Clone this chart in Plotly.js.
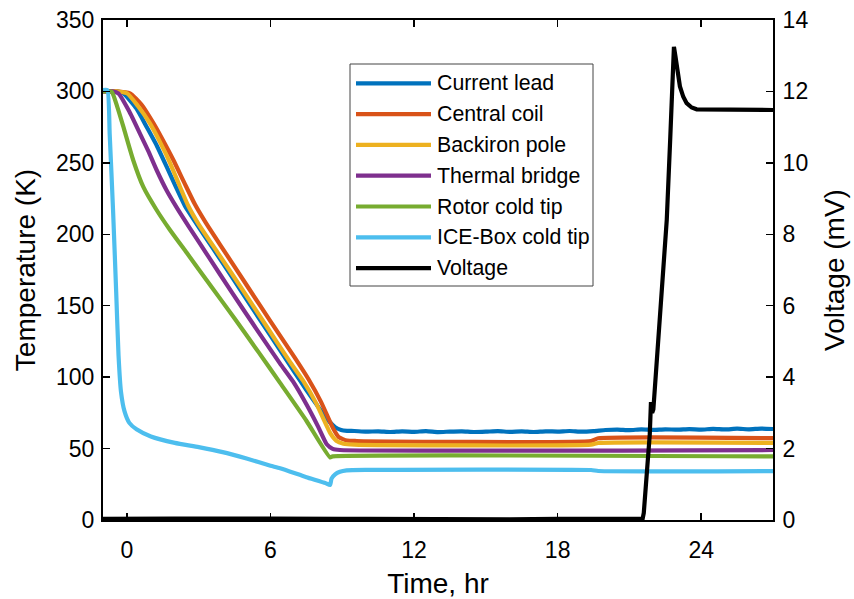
<!DOCTYPE html>
<html>
<head>
<meta charset="utf-8">
<script src="https://cdn.plot.ly/plotly-3.0.1.min.js"></script>
<style>html,body{margin:0;padding:0;background:#fff;}#chart{width:854px;height:599px;}</style>
</head>
<body>
<div id="chart"></div>
<script>
// ---- series names & colours ----
const seriesNames = ['Current lead','Central coil','Backiron pole','Thermal bridge','Rotor cold tip','ICE-Box cold tip','Voltage'];
const seriesColors = ['#0072BD','#D95319','#EDB120','#7E2F8E','#77AC30','#4DBEEE','#000000'];

// ---- Current lead (K) ----
const tLead = [-1,-0.4,-0.15,0.4,0.82,1.25,1.66,2.05,2.42,3.2,4,5,6,7,7.5,8.0,8.4,8.7,8.95,9.2,9.5,10,10.5,11,11.5,12,12.5,13,13.5,14,14.5,15,15.5,16,16.5,17,17.5,18,18.5,19,19.5,20,20.5,21,21.5,22,22.5,23,23.5,24,24.5,25,25.5,26,26.5,27];
const tempLead = [300,300,298.7,288,275.3,262,247.3,233,220,200,180,154.5,129,103.5,91,79,70,65,63,62.4,62.3,61.8,62.1,61.6,62.0,61.7,62.2,61.5,61.9,62.1,61.6,61.8,62.2,61.7,62.0,61.6,62.1,61.9,62.3,61.8,62.2,63.0,63.3,62.9,63.4,63.1,63.5,63.2,63.6,63.3,63.8,63.4,63.9,63.5,64.0,63.7];

// ---- Central coil (K) ----
const tCoil = [-1,-0.5,0.13,0.6,1.1,1.5,1.94,2.4,2.84,3.3,4,5,6,7,7.59,8.1,8.62,8.85,9.2,9.6,19.4,19.7,27];
const tempCoil = [300,300,298.7,291,278,266,252,236,221,208,190,164.5,139,114,98.5,83,64,58,55.6,55.3,55.3,57.2,57.3];

// ---- Backiron pole (K) ----
const tPole = [-1,-0.45,0.0,0.45,0.95,1.4,1.8,2.2,2.56,3.0,3.8,4.8,5.8,6.8,7.36,7.9,8.49,8.75,9.05,9.5,19.4,19.7,27];
const tempPole = [300,300,298.7,290,278,264,250,234,220,207,187,162,136.5,111,97.5,82,61,55.5,53.4,52.7,52.7,53.9,54.0];

// ---- Thermal bridge (K) ----
const tBridge = [-1,-0.6,-0.36,0.1,0.54,0.9,1.24,1.65,2.07,2.6,3.4,4.4,5.4,6.4,6.94,7.5,8.0,8.35,8.6,8.9,27];
const tempBridge = [300,300,298.7,286,270.7,258,245,231,219,205,184.5,159,134,109.5,97,81,65,53,49.8,49,49];

// ---- Rotor cold tip (K) ----
const tRotor = [-1,-0.64,-0.4,-0.15,0.26,0.68,1.24,1.8,2.5,3.5,4.5,5.5,6.4,7.5,8.49,8.6,27];
const tempRotor = [300,299.8,289,275.3,252,233.3,217,203,187,164,141,117.5,96,69.5,43.8,44.5,44.5];

// ---- ICE-Box cold tip (K) ----
const tIce = [-1,-0.82,-0.72,-0.58,-0.45,-0.35,-0.25,-0.1,0.1,0.4,1,2,3,4,5,6,6.4,7.5,8.3,8.49,8.55,8.7,8.9,9.18,10,19.4,19.7,27];
const tempIce = [301,301,270,217,160,115,90,76,68,63.5,58.5,54,51,47.5,43,38,36.2,30,25.8,24.5,29,32,33.8,34.8,35.1,35.0,34.3,34.2];

// ---- Voltage (mV) ----
const tVolt = [-1,0,1,2,3,4,5,6,7,8,9,10,12,14,16,18,20,21.55,21.6,21.75,21.85,21.9,21.95,22.0,22.2,22.4,22.56,22.7,22.8,22.86,22.92,23.0,23.11,23.25,23.39,23.6,23.81,27];
const voltage = [0.03,0.04,0.03,0.04,0.04,0.03,0.04,0.04,0.03,0.04,0.03,0.03,0.02,0.03,0.02,0.03,0.02,0.03,0.2,1.4,2.4,3.3,3.0,3.1,5.0,6.8,8.4,10.6,12.3,13.25,13.0,12.6,12.14,11.85,11.67,11.55,11.5,11.48];

// ---- axis ticks ----
const xTicks = [0,6,12,18,24];
const yTicks = [0,50,100,150,200,250,300,350];
const y2Ticks = [0,2,4,6,8,10,12,14];

const tSets = [tLead,tCoil,tPole,tBridge,tRotor,tIce,tVolt];
const vSets = [tempLead,tempCoil,tempPole,tempBridge,tempRotor,tempIce,voltage];

const traces = tSets.map((t,i)=>({
  x:t, y:vSets[i], type:'scatter', mode:'lines', name:seriesNames[i],
  yaxis: i===6 ? 'y2' : 'y',
  line:{color:seriesColors[i], width:4.2, shape:(i===6?'linear':'spline'), smoothing:0.5},
  showlegend:false, hoverinfo:'skip'
}));

const FONT = 'Liberation Sans, Arial, Helvetica, sans-serif';
// plot area in px: left 103, right 773, top 20, bottom 520
const L=103, R=773, T=20, B=520, W=R-L, H=B-T;
const px = x => (x-L)/W;
const py = y => (B-y)/H;

// custom legend (box + sample lines + labels)
const shapes = [{type:'rect', xref:'paper', yref:'paper', x0:px(350), x1:px(593), y0:py(286), y1:py(64), line:{color:'#444', width:1}, fillcolor:'#fff', layer:'above'}];
const annotations = [];
const rowY = [83.3,114.1,144.9,175.7,206.5,237.3,268.1];
seriesNames.forEach((n,i)=>{
  shapes.push({type:'line', xref:'paper', yref:'paper', x0:px(356), x1:px(431), y0:py(rowY[i]), y1:py(rowY[i]), line:{color:seriesColors[i], width:4.2}, layer:'above'});
  annotations.push({xref:'paper', yref:'paper', x:px(435), y:py(rowY[i]), text:n, showarrow:false, xanchor:'left', yanchor:'middle', font:{family:FONT, size:21.3, color:'#000'}});
});

const tickFont = {family:FONT, size:23, color:'#000'};
const titleFont = {family:FONT, size:28, color:'#000'};
const layout = {
  width:854, height:599,
  margin:{l:L, r:854-R, t:T, b:599-B, pad:0},
  paper_bgcolor:'#fff', plot_bgcolor:'#fff',
  font:{family:FONT, size:22, color:'#000'},
  showlegend:false,
  xaxis:{range:[-1,27], tickvals:xTicks, ticks:'inside', ticklen:7, tickwidth:1.5, tickcolor:'#000', ticklabelstandoff:8,
    showline:true, linecolor:'#000', linewidth:2, mirror:'ticks', showgrid:false, zeroline:false,
    tickfont:tickFont, title:{text:'Time, hr', font:titleFont, standoff:12}, automargin:false},
  yaxis:{range:[0,350], tickvals:yTicks, ticks:'inside', ticklen:7, tickwidth:1.5, tickcolor:'#000', ticklabelstandoff:2,
    showline:true, linecolor:'#000', linewidth:2, showgrid:false, zeroline:false,
    tickfont:tickFont, title:{text:'Temperature (K)', font:titleFont, standoff:12}, automargin:false},
  yaxis2:{range:[0,14], tickvals:y2Ticks, overlaying:'y', side:'right', ticks:'inside', ticklen:7, tickwidth:1.5, tickcolor:'#000', ticklabelstandoff:3,
    showline:true, linecolor:'#000', linewidth:2, showgrid:false, zeroline:false,
    tickfont:tickFont, title:{text:'Voltage (mV)', font:titleFont, standoff:17}, automargin:false},
  shapes:shapes, annotations:annotations
};

Plotly.newPlot('chart', traces, layout, {displayModeBar:false, staticPlot:true});
</script>
</body>
</html>
